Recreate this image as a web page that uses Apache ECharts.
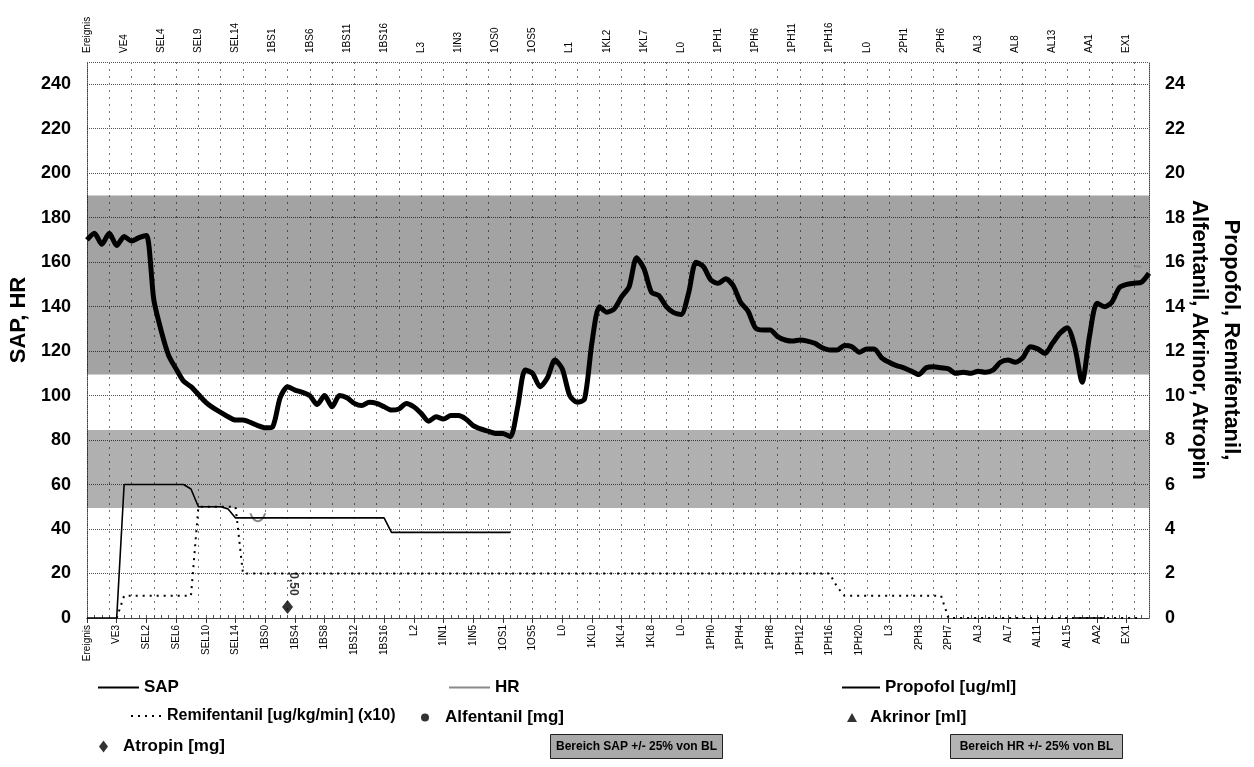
<!DOCTYPE html>
<html>
<head>
<meta charset="utf-8">
<script src="https://cdn.jsdelivr.net/npm/echarts@6/dist/echarts.min.js"></script>
<style>
html,body{margin:0;padding:0;background:#fff;}
#chart{width:1254px;height:767px;}
</style>
</head>
<body>
<div id="chart"></div>
<script>
// ---------- DATA ----------
const categories = [
  'Ereignis',
  'VE0','VE1','VE2','VE3','VE4',
  'SEL0','SEL1','SEL2','SEL3','SEL4','SEL5','SEL6','SEL7','SEL8','SEL9','SEL10','SEL11','SEL12','SEL13','SEL14','SEL15','SEL16','SEL17',
  '1BS0','1BS1','1BS2','1BS3','1BS4','1BS5','1BS6','1BS7','1BS8','1BS9','1BS10','1BS11','1BS12','1BS13','1BS14','1BS15','1BS16','1BS17',
  'L0','L1','L2','L3','L4',
  '1IN0','1IN1','1IN2','1IN3','1IN4','1IN5','1IN6','1IN7',
  '1OS0','1OS1','1OS2','1OS3','1OS4','1OS5','1OS6','1OS7','1OS8',
  'L0','L1','L2','L3',
  '1KL0','1KL1','1KL2','1KL3','1KL4','1KL5','1KL6','1KL7','1KL8','1KL9','1KL10','1KL11',
  'L0','L1','L2','L3',
  '1PH0','1PH1','1PH2','1PH3','1PH4','1PH5','1PH6','1PH7','1PH8','1PH9','1PH10','1PH11','1PH12','1PH13','1PH14','1PH15','1PH16','1PH17','1PH18','1PH19','1PH20',
  'L0','L1','L2','L3',
  '2PH0','2PH1','2PH2','2PH3','2PH4','2PH5','2PH6','2PH7',
  'AL0','AL1','AL2','AL3','AL4','AL5','AL6','AL7','AL8','AL9','AL10','AL11','AL12','AL13','AL14','AL15','AL16',
  'AA0','AA1','AA2','AA3','AA4',
  'EX0','EX1','EX2','EX3','EX4'
];

const sap = [
  170,173,168,173,167.5,171.5,169.5,171,172,143,
  129,118,112,106.5,104,100.5,97,94.5,92.5,90.5,
  89,89,88,86.5,85.5,86,99,104,102.5,101.5,
  100,96,100,95,100,99,96.5,95.5,97,96.5,
  95,93.5,94,96.5,95,92,88.5,90.5,89.5,91,
  91,89.5,86.5,85,84,83,83,81.5,95,111.5,
  110,104,108,116,112,100,97,98.5,124,140,
  137.5,139,144.5,149,162,157,146.5,145,140,137.3,
  136.5,146,160,158,152,150.5,152.5,149.5,142,138,
  130.5,129.5,129.5,126.5,125,124.5,125,124.5,123.5,121.5,
  120.5,120.5,122.5,122,119.5,121,121,117,115,113.5,
  112.5,111,109.5,112.5,113,112.5,112,110,110.5,110,
  111,110.5,111.5,115,116,115,117,122,121,119,
  123.5,128,130.5,122,106,127,141.5,140,142,148.5,
  150,150.5,151,155
];

// HR: only short fragments visible
const hr = [];
hr[22] = 47; hr[23] = 43.5; hr[24] = 47;
hr[141] = 158; hr[142] = 158;

// Propofol [ug/ml]
const propofol = [];
const propofolPts = [
  [0,0],[1,0],[2,0],[3,0],[4,0],[5,6],[6,6],[7,6],[8,6],[9,6],[10,6],[11,6],[12,6],[13,6],
  [14,5.8],[15,5],[16,5],[17,5],[18,5],[19,4.9],[20,4.5],[21,4.5],[22,4.5],[23,4.5],[24,4.5],
  [25,4.5],[26,4.5],[27,4.5],[28,4.5],[29,4.5],[30,4.5],[31,4.5],[32,4.5],[33,4.5],[34,4.5],
  [35,4.5],[36,4.5],[37,4.5],[38,4.5],[39,4.5],[40,4.5],[41,3.85],[42,3.85],[43,3.85],[44,3.85],
  [45,3.85],[46,3.85],[47,3.85],[48,3.85],[49,3.85],[50,3.85],[51,3.85],[52,3.85],[53,3.85],
  [54,3.85],[55,3.85],[56,3.85],[57,3.85],
  [133,0],[134,0],[135,0],[136,0],[137,0]
];
propofolPts.forEach(p => { propofol[p[0]] = p[1]; });

// Remifentanil [ug/kg/min] (x10)
const remi = [];
const remiPts = [
  [4,0],[5,1],[6,1],[7,1],[8,1],[9,1],[10,1],[11,1],[12,1],[13,1],[14,1],
  [15,5],[16,5],[17,5],[18,5],[19,5],[20,5],[21,2],
  [100,2],[101,1.4],[102,1],[115,1],[116,0],[142,0]
];
const remiFlat2 = [21,100], remiFlat1 = [102,115], remiFlat0 = [116,142];
remiPts.forEach(p => { remi[p[0]] = p[1]; });
for (let i = remiFlat2[0]; i <= remiFlat2[1]; i++) remi[i] = 2;
for (let i = remiFlat1[0]; i <= remiFlat1[1]; i++) remi[i] = 1;
for (let i = remiFlat0[0]; i <= remiFlat0[1]; i++) remi[i] = 0;

const alfentanil = [];
const akrinor = [];
const atropinCat = ['1BS3'];
const atropinVal = [0.5];
const atropinLabel = ['0,50'];

const sapBand = [109.5, 190];
const hrBand = [49.5, 84.5];

const leftTicks = [0,20,40,60,80,100,120,140,160,180,200,220,240];
const rightTicks = [0,2,4,6,8,10,12,14,16,18,20,22,24];

// ---------- CHART ----------
const FONT = 'Liberation Sans, Arial, sans-serif';
const chart = echarts.init(document.getElementById('chart'), null, {renderer:'canvas'});

function fill(arr){ const out=[]; for(let i=0;i<categories.length;i++) out.push(arr[i]===undefined?null:arr[i]); return out; }

const legendText = {fontFamily: FONT, fontSize: 17, fontWeight: 'bold', color: '#000'};
function lt(extra){ return Object.assign({}, legendText, extra || {}); }
const hideSym = {opacity: 0};

const option = {
  animation: false,
  backgroundColor: '#fff',
  textStyle: {fontFamily: FONT},
  grid: {left: 87, right: 105, top: 62, bottom: 149, containLabel: false, outerBoundsMode: 'none'},
  legend: [
    {data:['SAP'], left: 97, top: 679, itemWidth: 41, itemHeight: 14, padding: 0, textStyle: lt(), selectedMode:false, itemStyle: hideSym},
    {data:['HR'], left: 448, top: 679, itemWidth: 41, itemHeight: 14, padding: 0, textStyle: lt(), selectedMode:false, itemStyle: hideSym},
    {data:['Propofol [ug/ml]'], left: 841, top: 679, itemWidth: 38, itemHeight: 14, padding: 0, textStyle: lt(), selectedMode:false, itemStyle: hideSym},
    {data:['Remifentanil [ug/kg/min] (x10)'], left: 130, top: 708, itemWidth: 31, itemHeight: 14, padding: 0, textStyle: lt({fontSize:16}), selectedMode:false, itemStyle: hideSym},
    {data:[{name:'Alfentanil [mg]', icon:'circle'}], left: 421, top: 709, itemWidth: 8, itemHeight: 8, padding: 0, textStyle: lt({padding:[0,0,0,11]}), selectedMode:false},
    {data:[{name:'Akrinor [ml]', icon:'triangle'}], left: 847, top: 709, itemWidth: 10, itemHeight: 9, padding: 0, textStyle: lt({padding:[0,0,0,8]}), selectedMode:false},
    {data:[{name:'Atropin [mg]', icon:'diamond'}], left: 99, top: 738, itemWidth: 9, itemHeight: 12, padding: 0, textStyle: lt({padding:[0,0,0,10]}), selectedMode:false}
  ],
  graphic: [
    {type:'group', left: 550, top: 734, children:[
      {type:'rect', shape:{x:0,y:0,width:172,height:24}, style:{fill:'#a9a9a9', stroke:'#222', lineWidth:1}},
      {type:'text', x:86, y:12, style:{text:'Bereich SAP +/- 25% von BL', align:'center', verticalAlign:'middle', font:'bold 12px Liberation Sans', fill:'#000'}}
    ]},
    {type:'group', left: 950, top: 734, children:[
      {type:'rect', shape:{x:0,y:0,width:172,height:24}, style:{fill:'#b3b3b3', stroke:'#222', lineWidth:1}},
      {type:'text', x:86, y:12, style:{text:'Bereich HR +/- 25% von BL', align:'center', verticalAlign:'middle', font:'bold 12px Liberation Sans', fill:'#000'}}
    ]}
  ],
  xAxis: [
    {
      type:'category', data: categories, boundaryGap:false, position:'bottom',
      axisLine:{show:true, lineStyle:{color:'#333', width:1}},
      axisTick:{show:true, interval:3, length:5, lineStyle:{color:'#333'}},
      axisLabel:{interval:3, rotate:90, fontSize:10, color:'#000', fontFamily:FONT, margin:7},
      splitLine:{show:true, interval:2, lineStyle:{color:'#777', type:[2,5], width:1}}
    },
    {
      type:'category', data: categories, boundaryGap:false, position:'top',
      axisLine:{show:true, lineStyle:{color:'#444', width:1, type:'dotted'}},
      axisTick:{show:true, interval:0, length:3, lineStyle:{color:'#555'}},
      axisLabel:{interval:4, rotate:90, fontSize:10, color:'#000', fontFamily:FONT, margin:9},
      splitLine:{show:false}
    }
  ],
  yAxis: [
    {
      type:'value', min:0, max:250, interval:20, position:'left',
      name:'SAP, HR', nameLocation:'middle', nameGap:54, nameRotate:90,
      nameTextStyle:{fontSize:22, fontWeight:'bold', color:'#000', fontFamily:FONT, padding:[0,0,0,40]},
      axisLine:{show:true, lineStyle:{color:'#444', type:'dotted'}},
      axisTick:{show:false},
      axisLabel:{fontSize:18, fontWeight:'bold', color:'#000', margin:16, fontFamily:FONT,
        formatter: v => leftTicks.indexOf(v) >= 0 ? String(v) : ''},
      splitLine:{show:true, lineStyle:{color:'#555', type:'dotted', width:1}}
    },
    {
      type:'value', min:0, max:25, interval:2, position:'right',
      name:'Propofol, Remifentanil,\nAlfentanil, Akrinor, Atropin', nameLocation:'middle', nameGap:34, nameRotate:-90,
      nameMoveOverlap:false,
      nameTextStyle:{fontSize:22, fontWeight:'bold', color:'#000', fontFamily:FONT, lineHeight:32},
      axisLine:{show:true, lineStyle:{color:'#444', type:'dotted'}},
      axisTick:{show:false},
      axisLabel:{fontSize:18, fontWeight:'bold', color:'#000', margin:16, fontFamily:FONT,
        formatter: v => rightTicks.indexOf(v) >= 0 ? String(v) : ''},
      splitLine:{show:false}
    }
  ],
  series: [
    {
      name:'Bereich SAP +/- 25% von BL', type:'line', data:[], z:1, silent:true,
      markArea:{silent:true, itemStyle:{color:'rgba(0,0,0,0.36)'},
        data:[[{xAxis:categories[0], yAxis:sapBand[0]},{xAxis:categories[categories.length-1], yAxis:sapBand[1]}]]}
    },
    {
      name:'Bereich HR +/- 25% von BL', type:'line', data:[], z:1, silent:true,
      markArea:{silent:true, itemStyle:{color:'rgba(0,0,0,0.31)'},
        data:[[{xAxis:categories[0], yAxis:hrBand[0]},{xAxis:categories[categories.length-1], yAxis:hrBand[1]}]]}
    },
    {
      name:'SAP', type:'line', data: fill(sap), yAxisIndex:0, symbol:'none', smooth:0.25, z:5,
      lineStyle:{color:'#000', width:5}, itemStyle:{color:'#000'}
    },
    {
      name:'HR', type:'line', data: fill(hr), yAxisIndex:0, symbol:'none', smooth:0.6, z:4, connectNulls:false,
      lineStyle:{color:'#8a8a8a', width:2}, itemStyle:{color:'#8a8a8a'}
    },
    {
      name:'Propofol [ug/ml]', type:'line', data: fill(propofol), yAxisIndex:1, symbol:'none', z:4, connectNulls:false,
      lineStyle:{color:'#000', width:1.6}, itemStyle:{color:'#000'}
    },
    {
      name:'Remifentanil [ug/kg/min] (x10)', type:'line', data: fill(remi), yAxisIndex:1, symbol:'none', z:4, connectNulls:false,
      lineStyle:{color:'#000', width:2, type:[2,5]}, itemStyle:{color:'#000'}
    },
    {
      name:'Alfentanil [mg]', type:'scatter', data: alfentanil, yAxisIndex:1, symbol:'circle', symbolSize:8,
      itemStyle:{color:'#000'}
    },
    {
      name:'Akrinor [ml]', type:'scatter', data: akrinor, yAxisIndex:1, symbol:'triangle', symbolSize:9,
      itemStyle:{color:'#000'}
    },
    {
      name:'Atropin [mg]', type:'scatter', yAxisIndex:1, symbol:'diamond', symbolSize:[11,14], z:6,
      data: atropinCat.map((c,i) => ({value:[categories.indexOf(c), atropinVal[i]], label:{formatter: atropinLabel[i]}})),
      itemStyle:{color:'#000'},
      label:{show:true, position:'top', rotate:-90, distance:16, fontSize:12, fontWeight:'bold', color:'#000', fontFamily:FONT}
    }
  ]
};
chart.setOption(option);
</script>
</body>
</html>
